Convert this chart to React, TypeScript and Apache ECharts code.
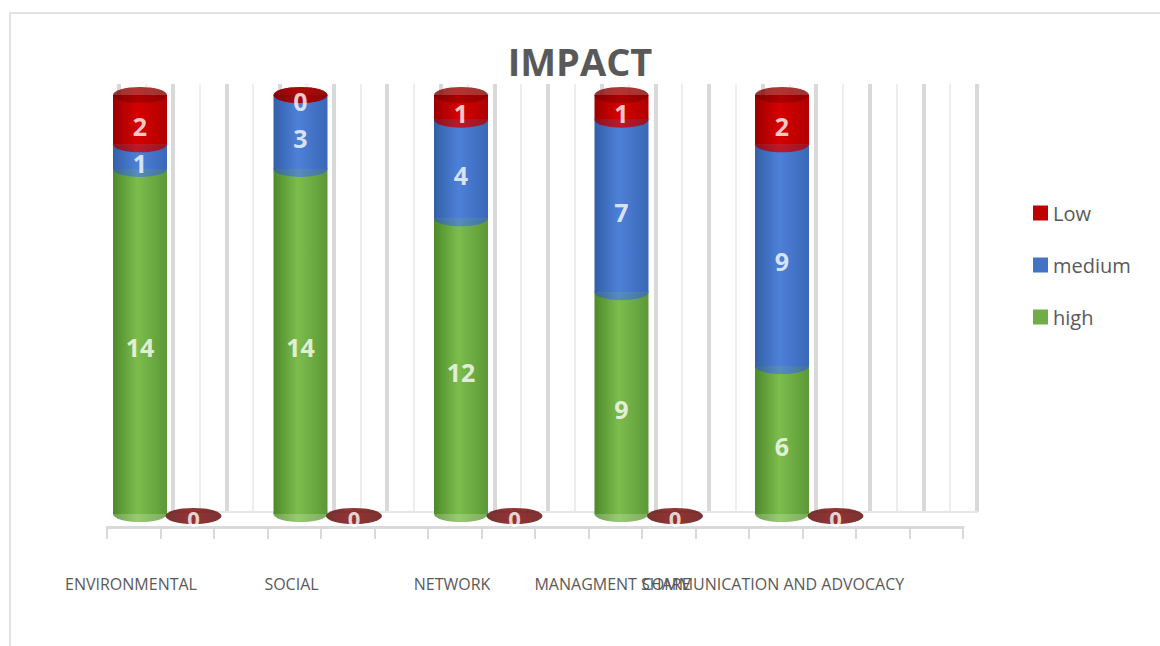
import React, { useEffect, useRef } from 'react';
import * as echarts from 'echarts';

const categories = ['ENVIRONMENTAL', 'SOCIAL', 'NETWORK', 'MANAGMENT SHARE', 'COMMUNICATION AND ADVOCACY'];
const highValues = [14, 14, 12, 9, 6];
const mediumValues = [1, 3, 4, 7, 9];
const lowValues = [2, 0, 1, 1, 2];
const zeroValues = [0, 0, 0, 0, 0];
const legendNames = ['Low', 'medium', 'high'];
const legendColors = ['#c00000', '#4472c4', '#70ad47'];

const ELLIPSE = 'path://M0 50A50 50 0 1 0 100 50A50 50 0 1 0 0 50Z';
const FONT = '"Open Sans", "Noto Sans", sans-serif';

function grad(c0: string, c1: string, c2: string) {
  return new echarts.graphic.LinearGradient(0, 0, 1, 0, [
    { offset: 0, color: c0 },
    { offset: 0.45, color: c1 },
    { offset: 1, color: c2 },
  ]);
}

export default function App() {
  const ref = useRef<HTMLDivElement>(null);
  useEffect(() => {
    if (!ref.current) return;
    const chart = echarts.init(ref.current, null, { renderer: 'svg' });
    const green = () => grad('#4c8a2a', '#7dbd4d', '#5b9837');
    const blue = () => grad('#335fa8', '#4d80d8', '#3a68b8');
    const red = () => grad('#9c0000', '#d60000', '#b00000');
    const cap = () => grad('#7a0000', '#a30000', '#880000');
    const disc = () => grad('#520000', '#7a0000', '#5a0000');

    const barW = 54;
    const ell = [54, 16];
    const greenBase = highValues.map((_, i) => [i, 0]);
    const blueEll = highValues.map((h, i) => [i, h]);
    const redEll = highValues.map((h, i) => [i, h + mediumValues[i]]);
    const caps = highValues.map((h, i) => [i, h + mediumValues[i] + lowValues[i]]);
    const discs = zeroValues.map((v, i) => [i, v, v]);
    const labelPts: any[] = [];
    highValues.forEach((h, i) => {
      const m = mediumValues[i];
      const l = lowValues[i];
      labelPts.push([i, h / 2, h]);
      labelPts.push([i, h + m / 2, m]);
      labelPts.push([i, h + m + l / 2, l]);
    });

    const valueLabel = {
      show: true,
      position: 'inside',
      color: '#ffffff',
      fontSize: 25,
      fontWeight: 'bold',
      fontFamily: FONT,
      offset: [0, 6],
    };

    chart.setOption({
      animation: false,
      backgroundColor: '#ffffff',
      title: {
        text: 'IMPACT',
        left: 'center',
        top: 37,
        textStyle: { fontSize: 38, fontWeight: 'bold', color: '#595959', fontFamily: FONT },
      },
      legend: {
        orient: 'vertical',
        left: 1028,
        top: 198,
        itemWidth: 15,
        itemHeight: 15,
        itemGap: 32,
        itemStyle: { borderWidth: 0 },
        icon: 'rect',
        textStyle: { fontSize: 20, color: '#595959', fontFamily: FONT },
        data: legendNames.map((n, i) => ({ name: n, itemStyle: { color: legendColors[i] } })),
      },
      graphic: [
        {
          type: 'rect',
          shape: { x: 10, y: 13, width: 1200, height: 700 },
          style: { fill: 'none', stroke: '#d9d9d9', lineWidth: 1.5 },
          silent: true,
        },
      ],
      grid: [
        { left: 59.75, top: 95, width: 802.5, height: 419 },
        { left: 119, top: 84, width: 858, height: 428 },
        { left: 107, top: 100, width: 856, height: 427 },
      ],
      xAxis: [
        {
          gridIndex: 0,
          type: 'category',
          data: categories,
          axisLine: { show: false },
          axisTick: { show: false },
          axisLabel: {
            interval: 0,
            margin: 62,
            color: '#595959',
            fontSize: 16,
            fontFamily: FONT,
            padding: [0, 18, 0, 0],
          },
        },
        {
          gridIndex: 1,
          type: 'value',
          min: 0,
          max: 16,
          interval: 1,
          axisLine: { show: true, onZero: false, lineStyle: { color: '#e6e6e6', width: 2 } },
          axisTick: { show: false },
          axisLabel: { show: false },
          splitLine: { show: true, lineStyle: { color: '#d9d9d9', width: 4 } },
          minorTick: { show: false, splitNumber: 2 },
          minorSplitLine: { show: true, lineStyle: { color: '#eeeeee', width: 2 } },
        },
        {
          gridIndex: 2,
          type: 'value',
          min: 0,
          max: 16,
          interval: 1,
          axisLine: { show: true, onZero: false, lineStyle: { color: '#d9d9d9', width: 3 } },
          axisTick: { show: true, length: 12, lineStyle: { color: '#d9d9d9', width: 2 } },
          axisLabel: { show: false },
          splitLine: { show: false },
        },
      ],
      yAxis: [
        { gridIndex: 0, type: 'value', min: 0, max: 17, show: false },
        { gridIndex: 1, type: 'value', min: 0, max: 1, show: false },
        { gridIndex: 2, type: 'value', min: 0, max: 1, show: false },
      ],
      series: [
        { name: 'high', type: 'bar', stack: 'a', barWidth: barW, data: highValues, itemStyle: { color: green() }, z: 2 },
        { name: 'medium', type: 'bar', stack: 'a', barWidth: barW, data: mediumValues, itemStyle: { color: blue() }, z: 2 },
        { name: 'Low', type: 'bar', stack: 'a', barWidth: barW, data: lowValues, itemStyle: { color: red() }, z: 2 },
        { type: 'scatter', symbol: ELLIPSE, symbolSize: ell, data: greenBase, itemStyle: { color: green() }, z: 3, silent: true },
        { type: 'scatter', symbol: ELLIPSE, symbolSize: ell, data: blueEll, itemStyle: { color: blue() }, z: 3, silent: true },
        { type: 'scatter', symbol: ELLIPSE, symbolSize: ell, data: redEll, itemStyle: { color: red() }, z: 3, silent: true },
        { type: 'scatter', symbol: ELLIPSE, symbolSize: ell, data: caps, itemStyle: { color: cap() }, z: 3, silent: true },
        {
          type: 'scatter',
          symbol: ELLIPSE,
          symbolSize: [56, 16],
          symbolOffset: [53.5, 2],
          data: discs,
          itemStyle: { color: disc() },
          z: 3,
          silent: true,
        },
        {
          type: 'scatter',
          symbolSize: 1,
          data: discs,
          itemStyle: { color: 'transparent' },
          z: 5,
          label: { ...valueLabel, fontSize: 22, offset: [53.5, 4], formatter: (p: any) => String(p.value[2]) },
          silent: true,
        },
        {
          type: 'scatter',
          symbolSize: 1,
          data: labelPts,
          itemStyle: { color: 'transparent' },
          z: 5,
          label: { ...valueLabel, formatter: (p: any) => String(p.value[2]) },
          silent: true,
        },
      ],
    });
    return () => chart.dispose();
  }, []);
  return <div ref={ref} style={{ position: 'absolute', left: 0, top: 0, width: 1160, height: 646 }} />;
}
